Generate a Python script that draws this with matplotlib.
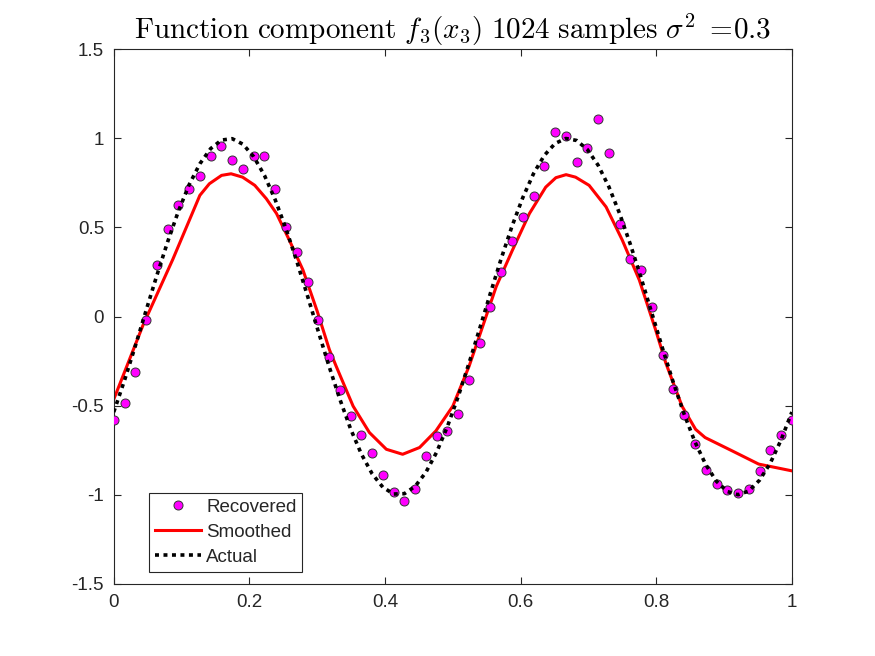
import numpy as np
import matplotlib
matplotlib.use("Agg")
import matplotlib.pyplot as plt

# Sample locations of the recovered points (64 evenly spaced samples)
x_samples = np.linspace(0.0, 1.0, 64)

recovered = [
    -0.583, -0.484, -0.313, -0.018, 0.289, 0.492, 0.626, 0.713,
    0.788, 0.902, 0.959, 0.881, 0.825, 0.902, 0.903, 0.715,
    0.505, 0.361, 0.192, -0.017, -0.227, -0.413, -0.560, -0.663,
    -0.767, -0.888, -0.985, -1.035, -0.968, -0.785, -0.670, -0.642,
    -0.549, -0.355, -0.149, 0.056, 0.248, 0.423, 0.561, 0.674,
    0.847, 1.034, 1.015, 0.868, 0.946, 1.110, 0.920, 0.518,
    0.324, 0.259, 0.056, -0.216, -0.404, -0.553, -0.717, -0.860,
    -0.940, -0.974, -0.989, -0.966, -0.868, -0.750, -0.665, -0.583,
]

actual = [
    -0.536, -0.358, -0.166, 0.033, 0.230, 0.418, 0.590, 0.739,
    0.857, 0.942, 0.990, 0.998, 0.967, 0.897, 0.792, 0.655,
    0.493, 0.311, 0.116, -0.083, -0.279, -0.463, -0.630, -0.771,
    -0.882, -0.958, -0.996, -0.994, -0.953, -0.874, -0.761, -0.617,
    -0.449, -0.263, -0.067, 0.132, 0.326, 0.507, 0.667, 0.802,
    0.904, 0.971, 0.999, 0.988, 0.937, 0.849, 0.728, 0.577,
    0.404, 0.215, 0.017, -0.182, -0.373, -0.549, -0.704, -0.831,
    -0.925, -0.982, -1.000, -0.979, -0.918, -0.822, -0.692, -0.536,
]

smooth_x = [
    0.000, 0.043, 0.087, 0.127, 0.141, 0.159, 0.173, 0.190, 0.208, 0.225,
    0.240, 0.259, 0.279, 0.300, 0.318, 0.328, 0.353, 0.377, 0.402, 0.426,
    0.451, 0.475, 0.500, 0.524, 0.549, 0.564, 0.588, 0.613, 0.637, 0.652,
    0.667, 0.681, 0.701, 0.726, 0.750, 0.775, 0.799, 0.814, 0.838, 0.858,
    0.872, 0.912, 0.951, 1.000,
]
smooth_y = [
    -0.465, -0.050, 0.320, 0.680, 0.745, 0.792, 0.801, 0.782, 0.736, 0.661,
    0.578, 0.428, 0.261, 0.030, -0.186, -0.279, -0.503, -0.651, -0.745, -0.773,
    -0.735, -0.642, -0.503, -0.279, 0.000, 0.168, 0.373, 0.578, 0.726, 0.779,
    0.796, 0.782, 0.736, 0.615, 0.428, 0.205, -0.074, -0.260, -0.503, -0.633,
    -0.679, -0.754, -0.828, -0.866,
]

x_ticks = [0, 0.2, 0.4, 0.6, 0.8, 1]
x_tick_labels = ["0", "0.2", "0.4", "0.6", "0.8", "1"]
y_ticks = [-1.5, -1, -0.5, 0, 0.5, 1, 1.5]
y_tick_labels = ["-1.5", "-1", "-0.5", "0", "0.5", "1", "1.5"]

plt.rcParams.update({
    "font.family": ["Liberation Sans", "DejaVu Sans"],
    "font.size": 13.5,
    "mathtext.fontset": "cm",
    "axes.unicode_minus": False,
})

axis_color = "#262626"

fig = plt.figure(figsize=(8.75, 6.56), dpi=100)
ax = fig.add_axes([0.13, 0.11, 0.775, 0.815])

ax.plot(x_samples, recovered, linestyle="none", marker="o", markersize=6.5,
        markerfacecolor="#ff00ff", markeredgecolor="#333333", markeredgewidth=0.7,
        label="Recovered", zorder=3)
ax.plot(smooth_x, smooth_y, color="#ff0000", linewidth=2.2, label="Smoothed", zorder=2)
ax.plot(x_samples, actual, color="black", linewidth=2.6, linestyle=(0, (1.1, 1.25)),
        label="Actual", zorder=4)

ax.set_xlim(0, 1)
ax.set_ylim(-1.5, 1.5)
ax.set_xticks(x_ticks)
ax.set_xticklabels(x_tick_labels)
ax.set_yticks(y_ticks)
ax.set_yticklabels(y_tick_labels)

for sp in ax.spines.values():
    sp.set_color(axis_color)
    sp.set_linewidth(0.8)
ax.tick_params(direction="in", length=5, width=0.8, color=axis_color,
               labelcolor=axis_color, labelsize=13.5, top=True, right=True, pad=7)

ax.set_title(r"$\mathrm{Function\ component\ }f_3(x_3)\mathrm{\ 1024\ samples\ }\sigma^2\ \mathrm{=}\!0.3$",
             fontsize=21, pad=7)

leg = ax.legend(loc="lower left", bbox_to_anchor=(0.052, 0.023), borderaxespad=0,
                fontsize=13.5, handlelength=2.45, labelspacing=0.42, handletextpad=0.3,
                fancybox=False, framealpha=1, edgecolor=axis_color, borderpad=0.3)
leg.get_frame().set_linewidth(0.8)
for t in leg.get_texts():
    t.set_color(axis_color)

fig.savefig("out.png", dpi=100, facecolor="white")
